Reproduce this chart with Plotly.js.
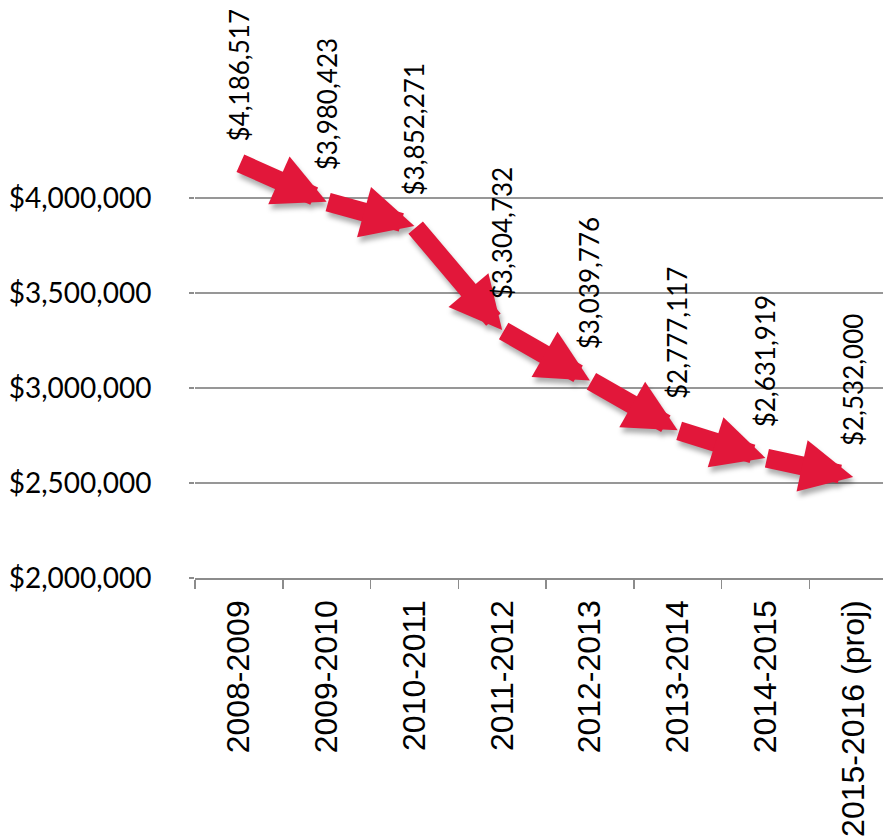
<!DOCTYPE html>
<html><head><meta charset="utf-8">
<script src="https://cdn.plot.ly/plotly-3.0.1.min.js"></script>
<style>html,body{margin:0;padding:0;background:#fff;}#chart{width:883px;height:836px;}</style>
</head><body><div id="chart"></div>
<script>
const categories = ["2008-2009","2009-2010","2010-2011","2011-2012","2012-2013","2013-2014","2014-2015","2015-2016 (proj)"];
const values = [4186517, 3980423, 3852271, 3304732, 3039776, 2777117, 2631919, 2532000];
const yTickValues = [2000000, 2500000, 3000000, 3500000, 4000000];
const yTickLabels = ["$2,000,000", "$2,500,000", "$3,000,000", "$3,500,000", "$4,000,000"];

const fmt = v => "$" + v.toLocaleString("en-US");
const RED = "#e2173a";
const nSeg = values.length - 1;

const annotations = [];
// shadows
for (let i = 0; i < nSeg; i++) {
  annotations.push({
    x: i + 1, y: values[i + 1], ax: i, ay: values[i],
    xref: "x", yref: "y", axref: "x", ayref: "y",
    text: "", showarrow: true, arrowhead: 2, arrowsize: 0.55, arrowwidth: 19,
    arrowcolor: "rgba(0,0,0,0.32)", standoff: 0, xshift: 2, yshift: -5
  });
}
// arrows
for (let i = 0; i < nSeg; i++) {
  annotations.push({
    x: i + 1, y: values[i + 1], ax: i, ay: values[i],
    xref: "x", yref: "y", axref: "x", ayref: "y",
    text: "", showarrow: true, arrowhead: 2, arrowsize: 0.55, arrowwidth: 19,
    arrowcolor: RED, standoff: 0
  });
}
// value labels
for (let i = 0; i < values.length; i++) {
  annotations.push({
    x: i, y: values[i], xref: "x", yref: "y",
    text: fmt(values[i]), showarrow: false, textangle: -90,
    xanchor: "center", yanchor: "bottom", yshift: i === 0 ? 19 : 29,
    font: {family: "Lato, 'Open Sans', sans-serif", size: 26, color: "#000"}
  });
}

const trace = {
  x: categories, y: values, type: "scatter", mode: "none",
  hoverinfo: "skip", showlegend: false
};

const layout = {
  width: 883, height: 836,
  margin: {l: 195, r: 0, t: 0, b: 258},
  paper_bgcolor: "#fff", plot_bgcolor: "#fff",
  showlegend: false,
  xaxis: {
    type: "category", range: [-0.5, 7.34],
    showgrid: false, zeroline: false,
    showline: true, linecolor: "#8c8c8c", linewidth: 1.5,
    ticks: "outside", ticklen: 9, tickcolor: "#8c8c8c", tickwidth: 1.5,
    tickson: "boundaries", tickangle: -90, ticklabelstandoff: 8,
    tickfont: {family: "Liberation Sans", size: 32, color: "#000"},
    fixedrange: true
  },
  yaxis: {
    range: [2000000, 2000000 + 578 / 190 * 1000000],
    tickvals: yTickValues, ticktext: yTickLabels,
    showgrid: true, gridcolor: "#979797", gridwidth: 1.5,
    zeroline: false, showline: false,
    ticks: "outside", ticklen: 5, tickcolor: "#8c8c8c", tickwidth: 1.5,
    ticklabelstandoff: 32,
    tickfont: {family: "Lato, 'Open Sans', sans-serif", size: 28, color: "#000"},
    fixedrange: true
  },
  annotations: annotations
};

Plotly.newPlot("chart", [trace], layout, {displayModeBar: false, staticPlot: true}).then(gd => {
  // soften the drop shadows of the arrows
  const groups = gd.querySelectorAll("g.annotation");
  for (let i = 0; i < nSeg && i < groups.length; i++) {
    groups[i].style.filter = "blur(2.5px)";
  }
});
</script>
</body></html>
